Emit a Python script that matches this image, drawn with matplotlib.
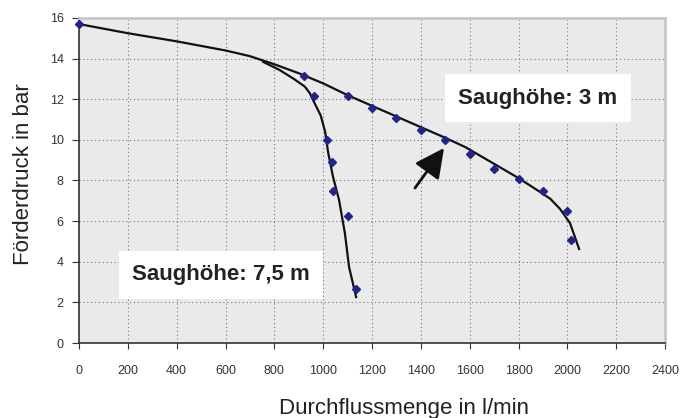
import matplotlib
matplotlib.use("Agg")
import matplotlib.pyplot as plt

plt.rcParams['font.family'] = ['Liberation Sans', 'DejaVu Sans']

# measured points (diamonds)
x_pts_75 = [920, 962, 1015, 1036, 1040, 1100, 1135]
y_pts_75 = [13.15, 12.16, 10.0, 8.9, 7.5, 6.27, 2.65]
x_pts_3 = [0, 1100, 1200, 1300, 1400, 1500, 1600, 1700, 1800, 1900, 2000, 2015]
y_pts_3 = [15.7, 12.16, 11.56, 11.08, 10.5, 10.0, 9.3, 8.56, 8.07, 7.48, 6.5, 5.07]

# hand-drawn curves
x_line_3 = [0, 200, 400, 600, 700, 760, 800, 900, 1000, 1100, 1300, 1500, 1581, 1800,
            1880, 1930, 1970, 2011, 2048]
y_line_3 = [15.7, 15.25, 14.85, 14.4, 14.12, 13.88, 13.72, 13.28, 12.78, 12.2, 11.15, 10.1,
            9.65, 8.12, 7.5, 7.1, 6.6, 5.9, 4.63]
x_line_75 = [754, 820, 880, 925, 945, 965, 990, 1008, 1020, 1040, 1065, 1089, 1106, 1135]
y_line_75 = [13.84, 13.45, 13.0, 12.62, 12.3, 11.8, 11.2, 10.4, 9.4, 8.2, 7.04, 5.4, 3.74, 2.26]

x_ticks = list(range(0, 2401, 200))
y_ticks = list(range(0, 17, 2))

fig = plt.figure(figsize=(6.87, 4.18), dpi=100)
ax = fig.add_axes([0.115, 0.1794, 0.853, 0.7776])
ax.set_facecolor('#eaeaea')

ax.plot(x_line_3, y_line_3, color='#111111', lw=1.6, zorder=3)
ax.plot(x_line_75, y_line_75, color='#111111', lw=1.6, zorder=3)
ax.plot(x_pts_3, y_pts_3, 'D', color='#23238e', ms=4.2, zorder=4, clip_on=False)
ax.plot(x_pts_75, y_pts_75, 'D', color='#23238e', ms=4.2, zorder=4)

ax.set_xlim(0, 2400)
ax.set_ylim(0, 16)
ax.set_xticks(x_ticks)
ax.set_yticks(y_ticks)
ax.grid(True, color='#777777', lw=0.8, linestyle=(0, (1, 2.5)))
ax.set_axisbelow(True)

ax.tick_params(axis='x', direction='out', length=4, pad=12, labelsize=9, colors='#333333')
ax.tick_params(axis='y', direction='out', length=5, pad=6, labelsize=9, colors='#333333')

for s in ['left', 'bottom']:
    ax.spines[s].set_color('#333333')
    ax.spines[s].set_linewidth(1.2)
for s in ['top', 'right']:
    ax.spines[s].set_color('#c8c8c8')
    ax.spines[s].set_linewidth(2)

ax.set_xlabel('Durchflussmenge in l/min', fontsize=16, color='#222222')
ax.set_ylabel('Förderdruck in bar', fontsize=16, color='#222222')
ax.xaxis.set_label_coords(0.555, -0.168)
ax.yaxis.set_label_coords(-0.077, 0.52)

box = dict(boxstyle='square,pad=0.6', facecolor='white', edgecolor='none')
ax.text(1880, 12.06, 'Saughöhe: 3 m', fontsize=16, fontweight='bold', color='#222222',
        ha='center', va='center', bbox=box, zorder=5)
ax.text(582, 3.35, 'Saughöhe: 7,5 m', fontsize=16, fontweight='bold', color='#222222',
        ha='center', va='center', bbox=box, zorder=5)

ax.annotate('', xy=(1495, 9.6), xytext=(1376, 7.63),
            arrowprops=dict(arrowstyle='-|>,head_length=0.9,head_width=0.45',
                            mutation_scale=20, lw=2, color='#111111',
                            shrinkA=0, shrinkB=0), zorder=5)

fig.savefig('out.png', dpi=100)
